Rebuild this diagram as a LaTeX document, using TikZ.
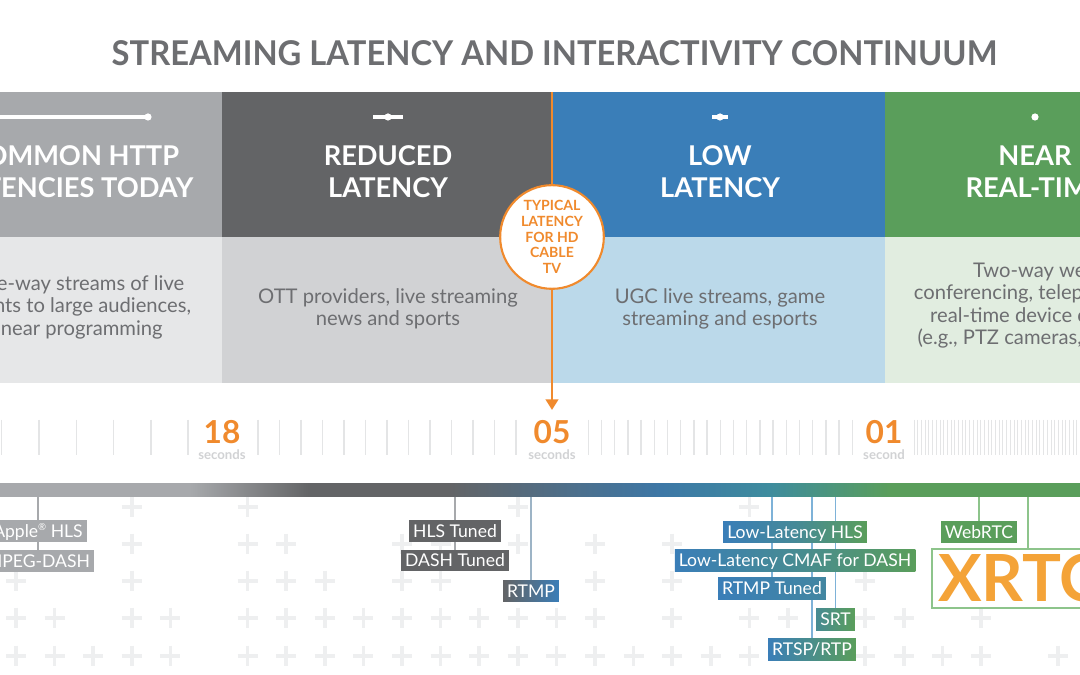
\documentclass[tikz,border=0pt]{standalone}
\usepackage{fontspec}
\setmainfont{Lato}
\usepackage{xcolor}
\usepackage{graphicx}
\usepackage{tikz}
\usetikzlibrary{arrows.meta,backgrounds}
\definecolor{bandgray}{HTML}{A7A9AC}
\definecolor{banddark}{HTML}{636466}
\definecolor{bandblue}{HTML}{3A7EB8}
\definecolor{bandgreen}{HTML}{5A9E5B}
\definecolor{washgray}{HTML}{E6E7E8}
\definecolor{washdark}{HTML}{D1D2D4}
\definecolor{washblue}{HTML}{BBD9EA}
\definecolor{washgreen}{HTML}{E1EDE0}
\definecolor{inkgray}{HTML}{6D6E71}
\definecolor{cableorange}{HTML}{F08A2D}
\definecolor{xrtcorange}{HTML}{F4A338}
\definecolor{tickgray}{HTML}{E4E5E6}
\definecolor{unitgray}{HTML}{D1D2D4}
\definecolor{plusgray}{HTML}{EEEFF0}
\definecolor{barblue}{HTML}{3D77A6}
\definecolor{barteal}{HTML}{3E8C9E}
\definecolor{feedgray}{HTML}{A7A9AC}
\definecolor{feedslate}{HTML}{9DB4C6}
\definecolor{feedblue}{HTML}{7EB2D8}
\definecolor{feedgreen}{HTML}{8DC48B}
% bar runs 0..1080 px, mapped onto 25bp..75bp of the shading
\pgfdeclarehorizontalshading{latencybar}{100bp}{color(0bp)=(bandgray); color(33.8bp)=(bandgray);
  color(39.35bp)=(banddark); color(45.8bp)=(banddark); color(55.6bp)=(barblue);
  color(60.6bp)=(barteal); color(66.2bp)=(bandgreen); color(100bp)=(bandgreen)}
\tikzset{
  band title/.style={text=white,font=\fontsize{15.5}{18.2}\selectfont\bfseries,
    align=center,inner sep=0pt,anchor=north},
  band text/.style={text=inkgray,font=\fontsize{11.5}{12.6}\selectfont,
    align=center,inner sep=0pt,anchor=north},
  range mark/.style={draw=white,line width=1.8pt},
  cable/.style={circle,draw=cableorange,fill=white,line width=1.2pt,minimum size=59pt,
    inner sep=0pt,text=cableorange,font=\fontsize{8}{9}\selectfont\bfseries,align=center},
  seconds mark/.style={text=cableorange,font=\fontsize{18}{18}\selectfont\bfseries,inner sep=0pt},
  unit label/.style={text=unitgray,font=\fontsize{7.5}{8}\selectfont\bfseries,inner sep=0pt,anchor=base},
  tickline/.style={draw=tickgray,line width=0.8pt},
  fine tick/.style={draw=tickgray,line width=0.45pt},
  plus mark/.style={draw=plusgray,line width=2pt},
  tag/.style={text=white,font=\fontsize{10}{12}\selectfont,inner xsep=2.3pt,inner ysep=0pt,
    text height=7.2pt,text depth=0pt,minimum height=12pt},
  feed/.style={line width=0.8pt}
}

\begin{document}
\begin{tikzpicture}[x=0.02cm,y=-0.02cm]
  \useasboundingbox (0,0) rectangle (1080,675);
  \begin{scope}[on background layer]
    \fill[white] (0,0) rectangle (1080,675);
    % plus pattern under the tags
    \foreach \y/\cols in {507/{3,6,13,19},
        544/{3,6,7,10,11,13,15,17},
        581/{0,3,6,7,8,10,11,15,17,22},
        618/{0,1,3,4,6,7,8,9,10,11,12,13,14,15,17,19,20,22,23,25},
        656/{0,1,2,3,4,6,7,8,9,10,11,12,13,14,15,16,17,18,19,22,23,24,25,27}}
      \foreach \k in \cols
        \draw[plus mark] ({16+38.6*\k-10},\y) -- ++(20,0) ({16+38.6*\k},{\y-10}) -- ++(0,20);
  \end{scope}

  \node[text=inkgray,font=\fontsize{20}{20}\selectfont\bfseries,inner sep=0pt] (title) at (554.5,53.5)
    {\resizebox{504pt}{14.2pt}{STREAMING LATENCY AND INTERACTIVITY CONTINUUM}};

  % columns
  \fill[bandgray] (-10,92) rectangle (222,237);
  \fill[banddark] (222,92) rectangle (552,237);
  \fill[bandblue] (552,92) rectangle (885,237);
  \fill[bandgreen] (885,92) rectangle (1090,237);
  \fill[washgray] (-10,237) rectangle (222,383);
  \fill[washdark] (222,237) rectangle (552,383);
  \fill[washblue] (552,237) rectangle (885,383);
  \fill[washgreen] (885,237) rectangle (1090,383);

  \draw[range mark] (-5,117) -- (148,117);
  \fill[white] (148,117) circle (3.6);
  \draw[range mark] (373,117) -- (403,117);
  \fill[white] (388,117) circle (3.6);
  \draw[range mark] (712,117) -- (728,117);
  \fill[white] (720,117) circle (3.6);
  \fill[white] (1035,117) circle (3.6);

  \node[band title] (common) at (73.5,145) {COMMON HTTP\\LATENCIES TODAY};
  \node[band title] (reduced) at (388,145) {REDUCED\\LATENCY};
  \node[band title] (low) at (720,145) {LOW\\LATENCY};
  \node[band title] (near) at (1035,145) {NEAR\\REAL-TIME};

  \node[band text] (commonuse) at (77,275.5) {One-way streams of live\\events to large audiences,\\linear programming};
  \node[band text] (reduceduse) at (388,288.5) {OTT providers, live streaming\\news and sports};
  \node[band text] (lowuse) at (720,288.5) {UGC live streams, game\\streaming and esports};
  \node[band text] (nearuse) at (1035,262.5) {Two-way web\\conferencing, telepresence,\\real-time device control\\(e.g., PTZ cameras, drones)};

  % cable tv marker
  \coordinate (cabletop) at (552,92);
  \coordinate (cablehit) at (552,410);
  \draw[cableorange,line width=1.7pt,-{Triangle[width=7pt,length=6pt]}] (cabletop) -- (cablehit);
  \node[cable] (cabletv) at (552,237) {TYPICAL\\LATENCY\\FOR HD\\CABLE\\TV};

  % time scale
  \foreach \k in {0,...,5} \draw[tickline] ({1.7+37.3*\k},420) -- ++(0,35);
  \foreach \k in {0,...,12} \draw[tickline] ({258+21.5*\k},420) -- ++(0,35);
  \foreach \k in {0,...,20} \draw[tickline] ({588.2+13.2*\k},420) -- ++(0,35);
  \foreach \k in {0,...,44} \draw[fine tick] ({914+3.7*\k},420) -- ++(0,35);

  \node[seconds mark] (s18) at (222,432) {18};
  \node[unit label] (u18) at (222,460) {seconds};
  \node[seconds mark] (s05) at (552,432) {05};
  \node[unit label] (u05) at (552,460) {seconds};
  \node[seconds mark] (s01) at (884,432) {01};
  \node[unit label] (u01) at (884,460) {second};

  \shade[shading=latencybar] (0,484) rectangle (1080,497);
  \coordinate (barbase) at (0,497);

  % protocols
  \node[tag,fill=bandgray] (apple) at (38,531) {Apple\raisebox{0.4em}{\fontsize{5.5}{6}\selectfont ®} HLS};
  \node[tag,fill=bandgray] (mpeg) at (38,561) {MPEG-DASH};
  \node[tag,fill=banddark] (hlstuned) at (455,531) {HLS Tuned};
  \node[tag,fill=banddark] (dashtuned) at (455,560.5) {DASH Tuned};
  \node[tag,left color=banddark,right color=bandblue,middle color=banddark!55!bandblue] (rtmp) at (531,591) {RTMP};
  \node[tag,left color=bandblue,right color=bandgreen,middle color=bandblue!65!bandgreen] (llhls) at (795,532) {Low-Latency HLS};
  \node[tag,left color=bandblue,right color=bandgreen,middle color=bandblue!60!bandgreen] (cmaf) at (795,560.5) {Low-Latency CMAF for DASH};
  \node[tag,left color=bandblue,right color=bandblue!75!bandgreen] (rtmptuned) at (772,588.5) {RTMP Tuned};
  \node[tag,left color=bandblue!60!bandgreen,right color=bandgreen] (srt) at (835.5,619.5) {SRT};
  \node[tag,left color=bandblue,right color=bandgreen,middle color=bandblue!50!bandgreen] (rtsp) at (812,649.5) {RTSP/RTP};
  \node[tag,fill=bandgreen] (webrtc) at (979,532) {WebRTC};
  \node[draw=feedgreen,line width=1.2pt,fill=white,text=xrtcorange,
    font=\fontsize{37}{37}\selectfont\bfseries,anchor=west,inner xsep=3.4pt,inner ysep=0pt,
    text height=26.7pt,text depth=0pt,minimum height=33.6pt] (xrtc) at (931,578.5) {XRTC};

  \begin{scope}[on background layer]
    \draw[feed,feedgray] (mpeg.north |- barbase) -- (mpeg.north);
    \draw[feed,feedgray] (dashtuned.north |- barbase) -- (dashtuned.north);
    \draw[feed,feedslate] (rtmp.north |- barbase) -- (rtmp.north);
    \draw[feed,feedblue] (rtmptuned.north |- barbase) -- (rtmptuned.north);
    \draw[feed,feedblue] (rtsp.north |- barbase) -- (rtsp.north);
    \draw[feed,feedblue] (srt.north |- barbase) -- (srt.north);
    \draw[feed,feedgreen] (webrtc.north |- barbase) -- (webrtc.north);
    \coordinate (xrtcfeed) at (1028,497);
    \draw[feed,feedgreen] (xrtcfeed) -- (xrtcfeed |- xrtc.north);
  \end{scope}
\end{tikzpicture}
\end{document}
